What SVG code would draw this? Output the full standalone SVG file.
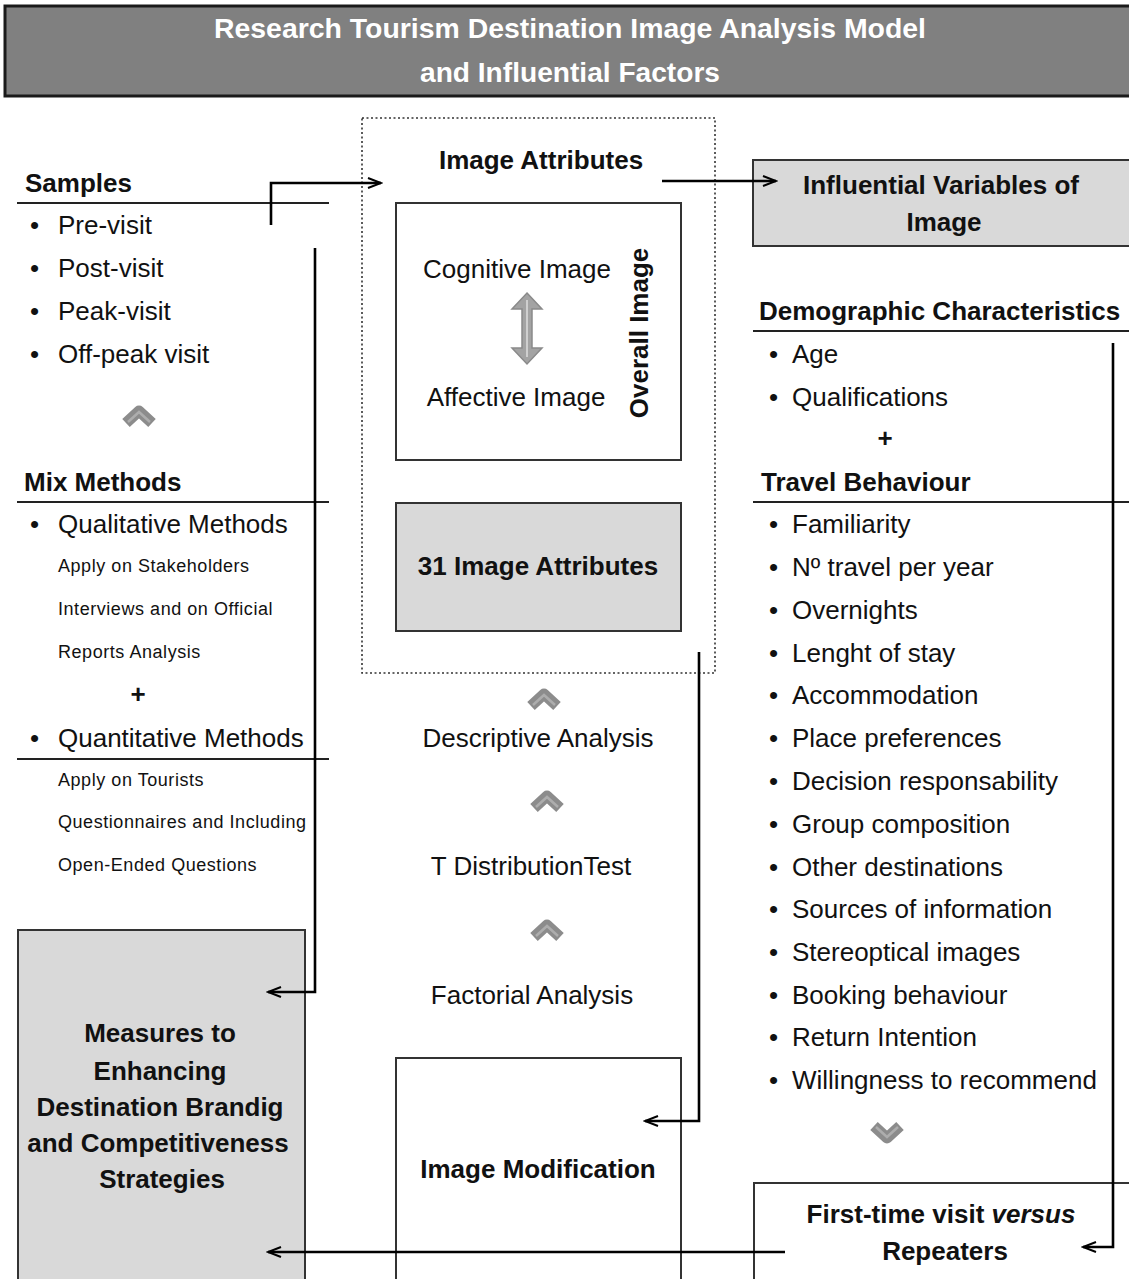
<svg xmlns="http://www.w3.org/2000/svg" width="1129" height="1279" viewBox="0 0 1129 1279">
  <style>
    text { font-family: "Liberation Sans", Arial, sans-serif; fill: #111; }
    .h { font-size: 26px; font-weight: bold; }
    .t { font-size: 26px; }
    .s { font-size: 18px; letter-spacing: 0.55px; }
    .c { text-anchor: middle; }
    .box { stroke: #333; stroke-width: 2; }
    .grey { fill: #d9d9d9; }
    .white { fill: #fff; }
    .rule { stroke: #222; stroke-width: 2; }
    .link { fill: none; stroke: #000; stroke-width: 2.6; marker-end: url(#arrow); }
    .title { font-size: 28px; font-weight: bold; fill: #fff; text-anchor: middle; }
  </style>
  <defs>
    <marker id="arrow" markerUnits="userSpaceOnUse" markerWidth="16" markerHeight="12" refX="14" refY="6" orient="auto">
      <path d="M1,1 L14,6 L1,11" fill="none" stroke="#000" stroke-width="2"/>
    </marker>
    <g id="chev-up">
      <polyline points="-13,9 0,-3 13,9" fill="none" stroke="#8c8c8c" stroke-width="11" stroke-linejoin="round"/>
      <polyline points="-11,8 0,-2 11,8" fill="none" stroke="#adadad" stroke-width="2.5"/>
    </g>
  </defs>

  <rect width="1129" height="1279" fill="#fff"/>

  <!-- title banner -->
  <g id="title">
    <rect x="5" y="6" width="1130" height="90" fill="#808080" stroke="#1a1a1a" stroke-width="3"/>
    <text class="title" x="570" y="38" textLength="712" lengthAdjust="spacingAndGlyphs">Research Tourism Destination Image Analysis Model</text>
    <text class="title" x="570" y="82" textLength="300" lengthAdjust="spacingAndGlyphs">and Influential Factors</text>
  </g>

  <!-- left column: samples -->
  <g id="samples">
    <text class="h" x="25" y="192">Samples</text>
    <line class="rule" x1="17" y1="203" x2="329" y2="203"/>
    <text class="t" x="30" y="234">•</text><text class="t" x="58" y="234">Pre-visit</text>
    <text class="t" x="30" y="277">•</text><text class="t" x="58" y="277">Post-visit</text>
    <text class="t" x="30" y="320">•</text><text class="t" x="58" y="320">Peak-visit</text>
    <text class="t" x="30" y="363">•</text><text class="t" x="58" y="363">Off-peak visit</text>
    <use href="#chev-up" x="139" y="414"/>
  </g>

  <!-- left column: mix methods -->
  <g id="mix-methods">
    <text class="h" x="24" y="491">Mix Methods</text>
    <line class="rule" x1="17" y1="502" x2="329" y2="502"/>
    <text class="t" x="30" y="533">•</text><text class="t" x="58" y="533">Qualitative Methods</text>
    <text class="s" x="58" y="572">Apply on Stakeholders</text>
    <text class="s" x="58" y="615">Interviews and on Official</text>
    <text class="s" x="58" y="658">Reports Analysis</text>
    <text class="h c" x="138" y="703">+</text>
    <text class="t" x="30" y="747">•</text><text class="t" x="58" y="747">Quantitative Methods</text>
    <line class="rule" x1="17" y1="759" x2="329" y2="759"/>
    <text class="s" x="58" y="786">Apply on Tourists</text>
    <text class="s" x="58" y="828">Questionnaires and Including</text>
    <text class="s" x="58" y="871">Open-Ended Questions</text>
  </g>

  <!-- left column: outcome box -->
  <g id="measures">
    <rect class="box grey" x="18" y="930" width="287" height="360"/>
    <text class="h c" x="160" y="1042">Measures to</text>
    <text class="h c" x="160" y="1080">Enhancing</text>
    <text class="h c" x="160" y="1116">Destination Brandig</text>
    <text class="h c" x="158" y="1152">and Competitiveness</text>
    <text class="h c" x="162" y="1188">Strategies</text>
  </g>

  <!-- centre column: image attributes -->
  <g id="image-attributes">
    <rect x="362" y="118" width="353" height="555" fill="none" stroke="#333" stroke-width="1.6" stroke-dasharray="2,2.5"/>
    <text class="h c" x="541" y="169">Image Attributes</text>
  </g>

  <g id="overall-image">
    <rect class="box white" x="396" y="203" width="285" height="257"/>
    <text class="t c" x="517" y="278">Cognitive Image</text>
    <path d="M527,293 L542,309 L532,309 L532,348 L542,348 L527,364 L512,348 L522,348 L522,309 L512,309 Z" fill="#a3a3a3" stroke="#8a8a8a" stroke-width="1.5"/>
    <line x1="527" y1="300" x2="527" y2="357" stroke="#cfcfcf" stroke-width="2"/>
    <text class="t c" x="516" y="406">Affective Image</text>
    <text class="h c" transform="translate(648,333) rotate(-90)">Overall Image</text>
  </g>

  <g id="attributes-31">
    <rect class="box grey" x="396" y="503" width="285" height="128"/>
    <text class="h c" x="538" y="575">31 Image Attributes</text>
  </g>

  <!-- centre column: analysis steps -->
  <g id="analysis">
    <use href="#chev-up" x="544" y="697"/>
    <text class="t c" x="538" y="747">Descriptive Analysis</text>
    <use href="#chev-up" x="547" y="799"/>
    <text class="t c" x="531" y="875">T DistributionTest</text>
    <use href="#chev-up" x="547" y="928"/>
    <text class="t c" x="532" y="1004">Factorial Analysis</text>
  </g>

  <g id="image-modification">
    <rect class="box white" x="396" y="1058" width="285" height="240"/>
    <text class="h c" x="538" y="1178">Image Modification</text>
  </g>

  <!-- right column -->
  <g id="influential-variables">
    <rect class="box grey" x="753" y="160" width="390" height="86"/>
    <text class="h c" x="941" y="194">Influential Variables of</text>
    <text class="h c" x="944" y="231">Image</text>
  </g>

  <g id="demographics">
    <text class="h" x="759" y="320">Demographic Characteristics</text>
    <line class="rule" x1="753" y1="331" x2="1129" y2="331"/>
    <text class="t" x="769" y="363">•</text><text class="t" x="792" y="363">Age</text>
    <text class="t" x="769" y="406">•</text><text class="t" x="792" y="406">Qualifications</text>
    <text class="h c" x="885" y="447">+</text>
  </g>

  <g id="travel-behaviour">
    <text class="h" x="761" y="491">Travel Behaviour</text>
    <line class="rule" x1="753" y1="502" x2="1129" y2="502"/>
    <text class="t" x="769" y="533">•</text><text class="t" x="792" y="533">Familiarity</text>
    <text class="t" x="769" y="576">•</text><text class="t" x="792" y="576">Nº travel per year</text>
    <text class="t" x="769" y="619">•</text><text class="t" x="792" y="619">Overnights</text>
    <text class="t" x="769" y="662">•</text><text class="t" x="792" y="662">Lenght of stay</text>
    <text class="t" x="769" y="704">•</text><text class="t" x="792" y="704">Accommodation</text>
    <text class="t" x="769" y="747">•</text><text class="t" x="792" y="747">Place preferences</text>
    <text class="t" x="769" y="790">•</text><text class="t" x="792" y="790">Decision responsability</text>
    <text class="t" x="769" y="833">•</text><text class="t" x="792" y="833">Group composition</text>
    <text class="t" x="769" y="876">•</text><text class="t" x="792" y="876">Other destinations</text>
    <text class="t" x="769" y="918">•</text><text class="t" x="792" y="918">Sources of information</text>
    <text class="t" x="769" y="961">•</text><text class="t" x="792" y="961">Stereoptical images</text>
    <text class="t" x="769" y="1004">•</text><text class="t" x="792" y="1004">Booking behaviour</text>
    <text class="t" x="769" y="1046">•</text><text class="t" x="792" y="1046">Return Intention</text>
    <text class="t" x="769" y="1089">•</text><text class="t" x="792" y="1089">Willingness to recommend</text>
    <use href="#chev-up" transform="translate(887,1135) rotate(180)"/>
  </g>

  <g id="visitor-type">
    <rect class="box white" x="754" y="1183" width="390" height="120"/>
    <text class="h c" x="941" y="1223">First-time visit <tspan font-style="italic">versus</tspan></text>
    <text class="h c" x="945" y="1260">Repeaters</text>
  </g>

  <!-- connectors -->
  <g id="connectors">
    <polyline class="link" points="271,225 271,183 381,183"/>
    <polyline class="link" points="662,181 776,181"/>
    <polyline class="link" points="315,248 315,992 268,992"/>
    <polyline class="link" points="699,652 699,1121 645,1121"/>
    <polyline class="link" points="1113,343 1113,1247 1083,1247"/>
    <polyline class="link" points="785,1252 268,1252"/>
  </g>
</svg>
